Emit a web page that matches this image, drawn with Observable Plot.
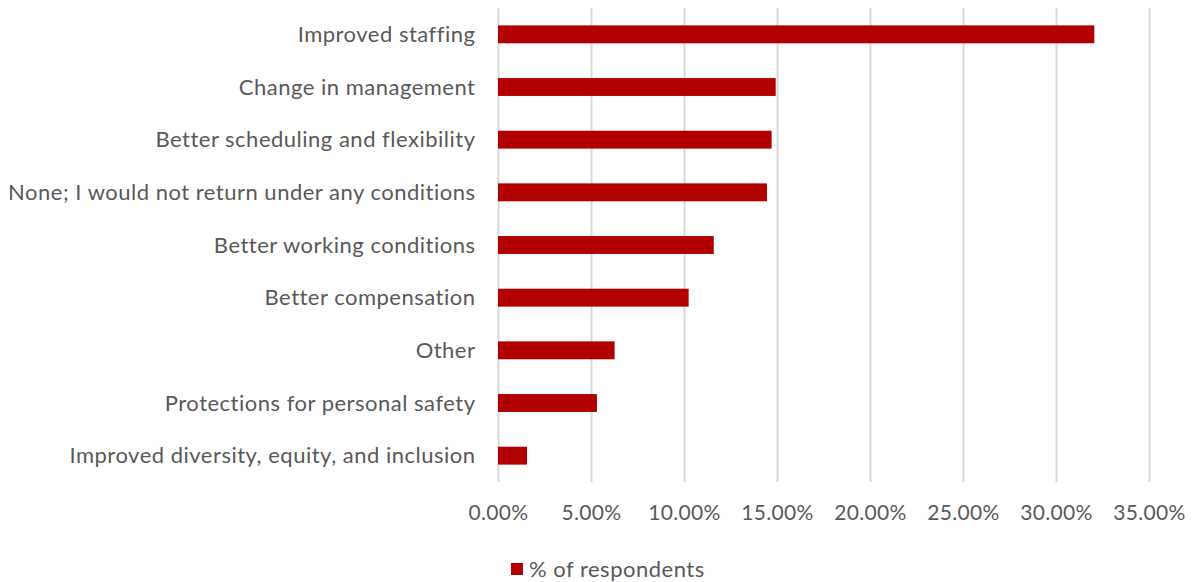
<!DOCTYPE html>
<html>
<head>
<meta charset="utf-8">
<script src="https://cdn.jsdelivr.net/npm/d3@7"></script>
<script src="https://cdn.jsdelivr.net/npm/@observablehq/plot@0.6"></script>
<style>
  html, body { margin: 0; padding: 0; background: #fff; }
  #wrap { position: relative; width: 1195px; height: 582px; font-family: Lato, "Open Sans", sans-serif; }
  #legend { position: absolute; left: 511px; top: 555px; display: flex; align-items: center; color: #595959; font-size: 22px; letter-spacing: 0.5px; }
  #legend .sw { width: 12px; height: 12px; background: #b20000; margin-right: 6px; }
  .ylab text { font-size: 22px; letter-spacing: 0.5px; }
  .xlab text { font-size: 21px; letter-spacing: 0.3px; }
</style>
</head>
<body>
<div id="wrap">
  <div id="chart"></div>
  <div id="legend"><span class="sw"></span><span>% of respondents</span></div>
</div>
<script>
const categories = [
  "Improved staffing",
  "Change in management",
  "Better scheduling and flexibility",
  "None; I would not return under any conditions",
  "Better working conditions",
  "Better compensation",
  "Other",
  "Protections for personal safety",
  "Improved diversity, equity, and inclusion"
];
const values = [0.3206, 0.1493, 0.1471, 0.1446, 0.1160, 0.1025, 0.0627, 0.0532, 0.0156];
const xTicks = [0, 0.05, 0.10, 0.15, 0.20, 0.25, 0.30, 0.35];
const seriesName = "% of respondents";

const data = categories.map((c, i) => ({category: c, value: values[i]}));

const chart = Plot.plot({
  width: 1195,
  height: 532,
  marginLeft: 498,
  marginRight: 46,
  marginTop: 8,
  marginBottom: 50,
  style: {fontFamily: "Lato, 'Open Sans', sans-serif", fontSize: "20px", color: "#595959", background: "#fff"},
  x: {domain: [0, 0.35], ticks: xTicks, tickFormat: d3.format(".2%"), label: null},
  y: {domain: categories, paddingInner: 0.66, paddingOuter: 0.33, round: false, label: null},
  marks: [
    Plot.gridX(xTicks, {stroke: "#d9d9d9", strokeOpacity: 1, strokeWidth: 2}),
    Plot.barX(data, {x: "value", y: "category", fill: "#b20000"}),
    Plot.axisX({ticks: xTicks, tickFormat: d3.format(".2%"), tickSize: 0, tickPadding: 23, label: null, fill: "#595959", className: "xlab"}),
    Plot.axisY({tickSize: 0, tickPadding: 23, label: null, fill: "#595959", className: "ylab"})
  ]
});
document.getElementById("chart").appendChild(chart);
document.querySelector("#legend span:last-child").textContent = seriesName;
</script>
</body>
</html>
